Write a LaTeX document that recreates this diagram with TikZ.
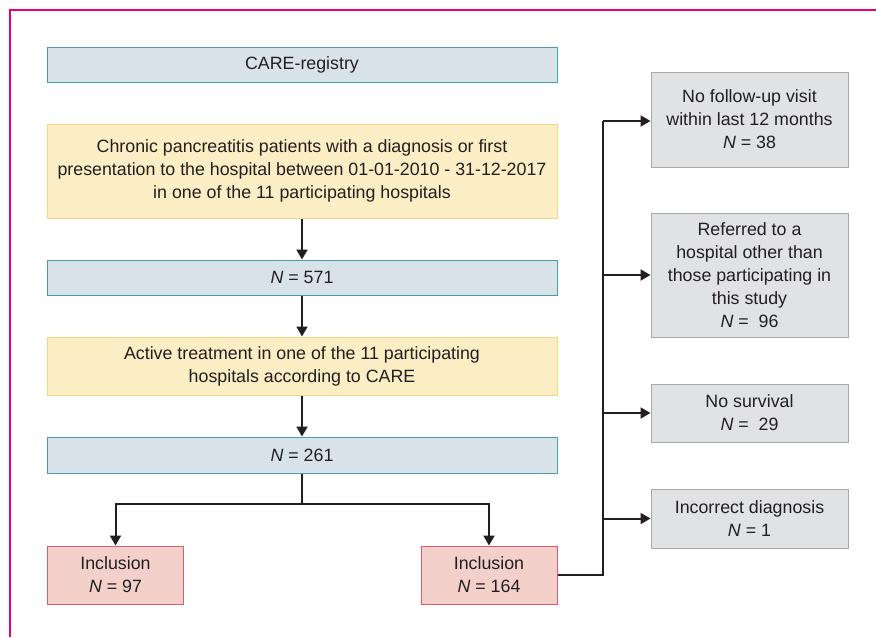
\documentclass[tikz,border=0pt]{standalone}
\usepackage{fontspec}
\setmainfont{Liberation Sans}
\usepackage{tikz}
\usetikzlibrary{arrows.meta,calc}
\usepackage{xcolor}
\definecolor{frameframe}{RGB}{228,0,124}
\definecolor{careblue}{RGB}{215,227,233}
\definecolor{careblueline}{RGB}{74,157,175}
\definecolor{careyellow}{RGB}{251,237,196}
\definecolor{careyellowline}{RGB}{244,214,130}
\definecolor{carepink}{RGB}{244,208,202}
\definecolor{carepinkline}{RGB}{224,90,110}
\definecolor{caregrey}{RGB}{225,226,228}
\definecolor{caregreyline}{RGB}{168,168,168}
\definecolor{caretext}{RGB}{35,31,32}

\tikzset{
  box/.style={rectangle,inner sep=0pt,align=center,text=caretext,
    font=\fontsize{8.9}{11.5}\selectfont,line width=0.5pt},
  bluebox/.style={box,fill=careblue,draw=careblueline,minimum width=255pt,minimum height=17.5pt},
  yellowbox/.style={box,fill=careyellow,draw=careyellowline,minimum width=255pt},
  pinkbox/.style={box,fill=carepink,draw=carepinkline,minimum width=68pt,minimum height=29pt},
  greybox/.style={box,fill=caregrey,draw=caregreyline,minimum width=98.5pt},
  flow/.style={line width=1pt,caretext},
}
\newcommand{\NN}[1]{\textit{N} = #1}

\begin{document}
\begin{tikzpicture}[x=0.5pt,y=-0.5pt,>={Triangle[length=5pt,width=5.5pt]}]
    \useasboundingbox (0,0) rectangle (876,637);
    \draw[frameframe,line width=1pt] (10,637) -- (10,10) -- (876,10);

    % Main column
    \node[bluebox] (care) at (302,65) {CARE-registry};
    \node[yellowbox,minimum height=47pt] (chronic) at (302,171)
        {Chronic pancreatitis patients with a diagnosis or first\\
         presentation to the hospital between 01-01-2010 - 31-12-2017\\
         in one of the 11 participating hospitals};
    \node[bluebox] (n571) at (302,277.5) {\NN{571}};
    \node[yellowbox,minimum height=29pt] (active) at (302,366)
        {Active treatment in one of the 11 participating\\
         hospitals according to CARE};
    \node[bluebox,minimum height=18pt] (n261) at (302,455) {\NN{261}};

    % Inclusion
    \node[pinkbox] (inc97) at (115.5,575) {Inclusion\\\NN{97}};
    \node[pinkbox] (inc164) at (489,575) {Inclusion\\\NN{164}};

    % Exclusions
    \node[greybox,minimum height=47.5pt] (followup) at (749.5,119.5)
        {No follow-up visit\\within last 12 months\\\NN{38}};
    \node[greybox,minimum height=62pt] (referred) at (749.5,275)
        {Referred to a\\hospital other than\\those participating in\\this study\\\textit{N} = \ 96};
    \node[greybox,minimum height=29pt] (survival) at (749.5,413)
        {No survival\\\textit{N} = \ 29};
    \node[greybox,minimum height=29.5pt] (diagnosis) at (749.5,518.5)
        {Incorrect diagnosis\\\NN{1}};

    \coordinate (split) at (302,504);
    \coordinate (bus) at (603,121);

    % Arrows
    \draw[flow,->] (chronic) -- (n571);
    \draw[flow,->] (n571) -- (active);
    \draw[flow,->] (active) -- (n261);
    \draw[flow] (n261) -- (split);
    \draw[flow,->] (split) -| (inc97);
    \draw[flow,->] (split) -| (inc164);
    \draw[flow] (inc164.east) -| (bus);
    \draw[flow,->] (bus) -- (followup.west |- bus);
    \foreach \ex in {referred,survival,diagnosis}
        \draw[flow,->] (\ex.west -| bus) -- (\ex.west);
\end{tikzpicture}
\end{document}
